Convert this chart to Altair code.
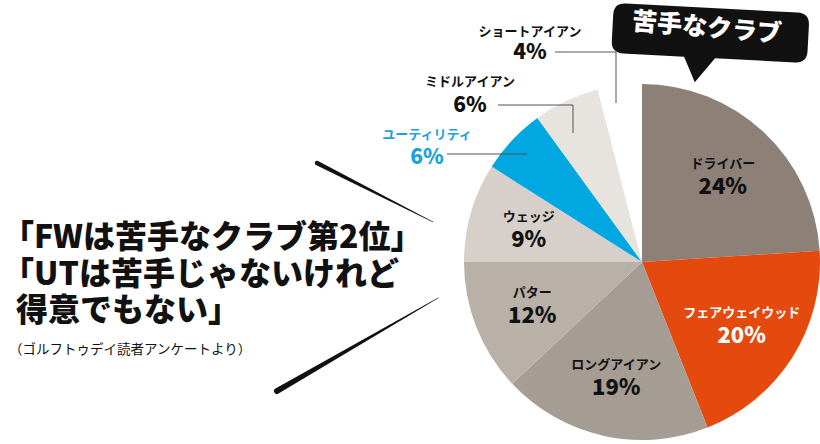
import altair as alt
import pandas as pd

# ---- data ----
clubs = ["ドライバー", "フェアウェイウッド", "ロングアイアン", "パター", "ウェッジ",
         "ユーティリティ", "ミドルアイアン", "ショートアイアン"]
shares = [24, 20, 19, 12, 9, 6, 6, 4]
slice_colors = ["#8c8077", "#e44a0e", "#a59c94", "#b9b0a8", "#d7d0ca",
                "#00a7e1", "#e7e3df", "#ffffff"]
inside_text_colors = ["#111111", "#ffffff", "#111111", "#111111", "#111111"]

bubble_title = "苦手なクラブ"
headline = ["「FWは苦手なクラブ第2位」", "「UTは苦手じゃないけれど", "得意でもない」"]
source_note = "（ゴルフトゥデイ読者アンケートより）"

# ---- layout (pixels) ----
CX, CY, R = 642, 262, 178
LABEL_R = 118
out_idx = [5, 6, 7]
out_x = [427, 470, 530]
out_name_y = [135, 82, 32]
out_pct_y = [158, 106, 53]
out_colors = ["#1aa3dc", "#111111", "#111111"]
leaders = [
    [(447, 154), (527, 154)],
    [(498, 105), (573, 105), (573, 133)],
    [(555, 52), (616, 52), (616, 103)],
]
slashes = [
    [(317, 163, 4.5), (433, 222, 0.6)],
    [(277, 391, 6.0), (438, 298, 0.6)],
]
headline_y = [238, 275, 311]
headline_x = [2, 2, 16]
FONT = "Noto Sans CJK JP"

df = pd.DataFrame({"club": clubs, "share": shares, "idx": list(range(len(clubs)))})
df["name_in"] = [c if i < 5 else "" for i, c in enumerate(clubs)]
df["pct_in"] = [f"{s}%" if i < 5 else "" for i, s in enumerate(shares)]
df["tcol"] = inside_text_colors + ["#111111"] * 3

color_scale = alt.Scale(domain=clubs, range=slice_colors)

base = alt.Chart(df).encode(
    theta=alt.Theta("share:Q", stack=True),
    order=alt.Order("idx:Q"),
    x=alt.value(CX),
    y=alt.value(CY),
)
pie = base.mark_arc(radius=R).encode(
    color=alt.Color("club:N", scale=color_scale, legend=None)
)
name_in = base.mark_text(radius=LABEL_R, dy=-12, font=FONT, fontWeight="bold",
                         fontSize=13).encode(
    text="name_in:N", color=alt.Color("tcol:N", scale=None))
pct_in = base.mark_text(radius=LABEL_R, dy=11, font=FONT, fontWeight=900,
                        fontSize=22).encode(
    text="pct_in:N", color=alt.Color("tcol:N", scale=None))

# outside labels
out_df = pd.DataFrame({
    "name": [clubs[i] for i in out_idx],
    "pct": [f"{shares[i]}%" for i in out_idx],
    "x": out_x, "ny": out_name_y, "py": out_pct_y, "c": out_colors,
})
out_name = alt.Chart(out_df).mark_text(font=FONT, fontWeight="bold", fontSize=13).encode(
    x=alt.X("x:Q", scale=None), y=alt.Y("ny:Q", scale=None),
    text="name:N", color=alt.Color("c:N", scale=None))
out_pct = alt.Chart(out_df).mark_text(font=FONT, fontWeight=900, fontSize=21).encode(
    x=alt.X("x:Q", scale=None), y=alt.Y("py:Q", scale=None),
    text="pct:N", color=alt.Color("c:N", scale=None))

lrows = []
for g, pts in enumerate(leaders):
    for k, (px, py) in enumerate(pts):
        lrows.append({"g": g, "k": k, "x": px, "y": py})
leader_lines = alt.Chart(pd.DataFrame(lrows)).mark_line(color="#555555", strokeWidth=1).encode(
    x=alt.X("x:Q", scale=None), y=alt.Y("y:Q", scale=None),
    detail="g:N", order="k:Q")

srows = []
for g, pts in enumerate(slashes):
    for k, (px, py, w) in enumerate(pts):
        srows.append({"g": g, "k": k, "x": px, "y": py, "w": w})
slash_lines = alt.Chart(pd.DataFrame(srows)).mark_trail(color="#111111").encode(
    x=alt.X("x:Q", scale=None), y=alt.Y("y:Q", scale=None),
    size=alt.Size("w:Q", scale=None, legend=None),
    detail="g:N", order="k:Q")

# speech bubble
bubble_path = ("M -0.86 -0.32 L 0.86 -0.32 Q 0.98 -0.32 0.98 -0.20 L 0.98 0.06 "
               "Q 0.98 0.18 0.86 0.18 L 0.06 0.18 L -0.13 0.43 L -0.25 0.18 "
               "L -0.86 0.18 Q -0.98 0.18 -0.98 0.06 L -0.98 -0.20 "
               "Q -0.98 -0.32 -0.86 -0.32 Z")
bub_df = pd.DataFrame({"x": [710], "y": [40], "t": [bubble_title]})
bubble = alt.Chart(bub_df).mark_point(shape=bubble_path, size=40000, filled=True,
                                      fill="#111111", opacity=1, strokeWidth=0,
                                      angle=3).encode(
    x=alt.X("x:Q", scale=None), y=alt.Y("y:Q", scale=None))
bubble_text = alt.Chart(bub_df).mark_text(font=FONT, fontWeight=900, fontSize=25,
                                          color="white", angle=5).encode(
    x=alt.value(707), y=alt.value(28), text="t:N")

head_df = pd.DataFrame({"t": headline, "y": headline_y, "x": headline_x})
head = alt.Chart(head_df).mark_text(font=FONT, fontWeight=900, fontSize=32,
                                    align="left", baseline="middle",
                                    color="#111111").encode(
    x=alt.X("x:Q", scale=None), y=alt.Y("y:Q", scale=None), text="t:N")
note_df = pd.DataFrame({"t": [source_note]})
note = alt.Chart(note_df).mark_text(font=FONT, fontSize=13.5, align="left",
                                    baseline="middle", color="#111111").encode(
    x=alt.value(9), y=alt.value(350), text="t:N")

chart = alt.layer(
    pie, name_in, pct_in, leader_lines, out_name, out_pct, slash_lines,
    bubble, bubble_text, head, note
).properties(
    width=820, height=444, padding=0, autosize=alt.AutoSizeParams(type="none")
).configure_view(stroke=None)

chart.save("out.html", embed_options={"renderer": "svg", "actions": False})
